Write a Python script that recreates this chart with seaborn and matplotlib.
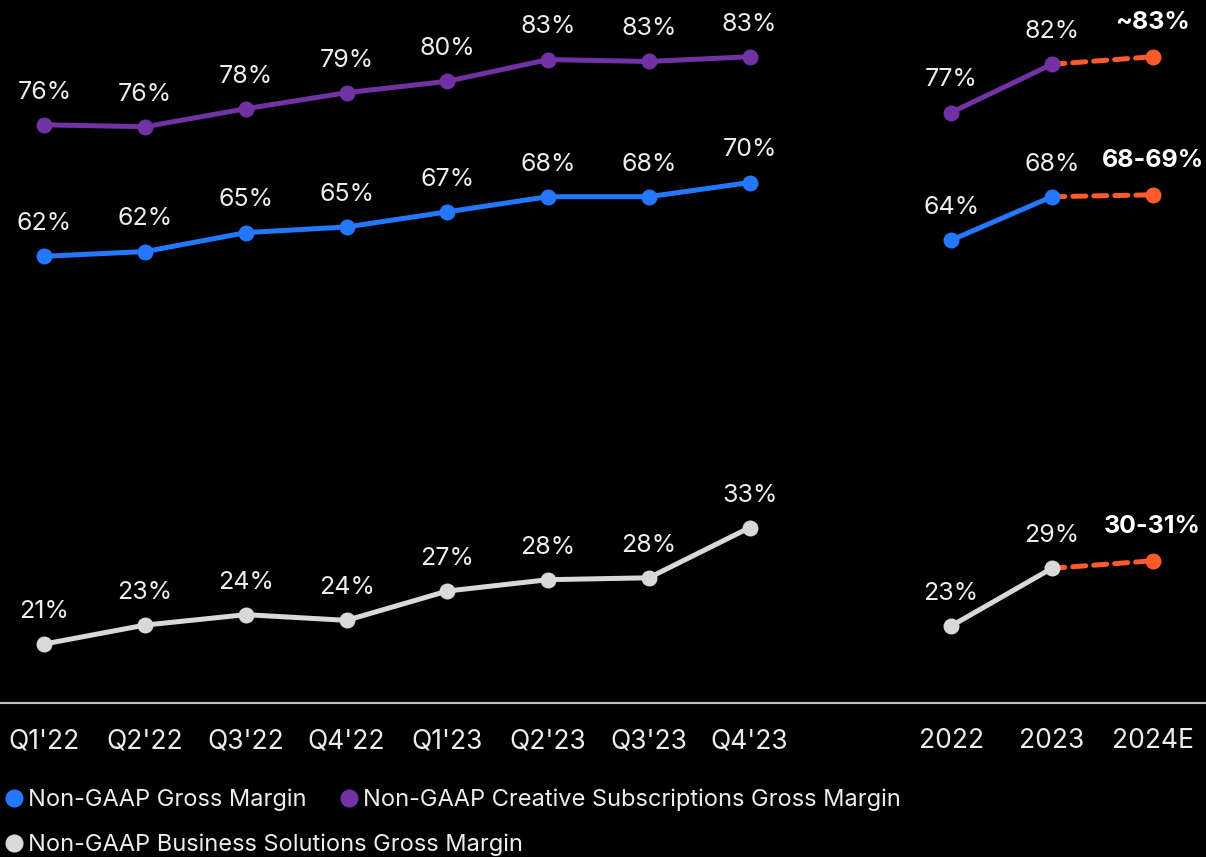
import matplotlib
matplotlib.use("Agg")
import matplotlib.pyplot as plt
from matplotlib.lines import Line2D
import seaborn as sns
import pandas as pd

# ---- data ----
quarters = ["Q1'22", "Q2'22", "Q3'22", "Q4'22", "Q1'23", "Q2'23", "Q3'23", "Q4'23"]
years = ["2022", "2023", "2024E"]

gross_q = [62.0, 62.5, 64.5, 65.1, 66.7, 68.3, 68.3, 69.8]
creative_q = [75.9, 75.7, 77.6, 79.3, 80.5, 82.8, 82.6, 83.1]
business_q = [21.0, 23.0, 24.1, 23.5, 26.6, 27.8, 28.0, 33.3]

gross_y = [63.7, 68.3, 68.5]
creative_y = [77.2, 82.3, 83.1]
business_y = [22.9, 29.0, 29.8]

gross_q_lbl = ["62%", "62%", "65%", "65%", "67%", "68%", "68%", "70%"]
creative_q_lbl = ["76%", "76%", "78%", "79%", "80%", "83%", "83%", "83%"]
business_q_lbl = ["21%", "23%", "24%", "24%", "27%", "28%", "28%", "33%"]
gross_y_lbl = ["64%", "68%", "68-69%"]
creative_y_lbl = ["77%", "82%", "~83%"]
business_y_lbl = ["23%", "29%", "30-31%"]

series_names = ["Non-GAAP Gross Margin",
                "Non-GAAP Creative Subscriptions Gross Margin",
                "Non-GAAP Business Solutions Gross Margin"]

# ---- style ----
BG = "#000000"
BLUE = "#2378FF"
PURPLE = "#7232A6"
GREY = "#D9D9D9"
ORANGE = "#FF5A2B"
TXT = "#EDEDED"

sns.set_theme(style="dark")
plt.rcParams["font.family"] = ["Inter", "DejaVu Sans"]

fig = plt.figure(figsize=(12.06, 8.57), dpi=100, facecolor=BG)
ax = fig.add_axes([0.0, 1 - 703 / 857, 1.0, 703 / 857])
ax.set_facecolor(BG)

q_pos = list(range(len(quarters)))
y_pos = [9, 10, 11]
tick_pos = q_pos + y_pos
tick_labels = quarters + years

colors = [BLUE, PURPLE, GREY]
q_vals = [gross_q, creative_q, business_q]
y_vals = [gross_y, creative_y, business_y]
q_lbls = [gross_q_lbl, creative_q_lbl, business_q_lbl]
y_lbls = [gross_y_lbl, creative_y_lbl, business_y_lbl]

LW = 3.6
MS = 11.5
LBL_FS = 18
OFF = 23.5

for name, col, qv, yv, ql, yl in zip(series_names, colors, q_vals, y_vals, q_lbls, y_lbls):
    # forecast dashed segment (2023 -> 2024E)
    dfe = pd.DataFrame({"x": y_pos[1:], "y": yv[1:]})
    sns.lineplot(data=dfe, x="x", y="y", ax=ax, color=ORANGE, linewidth=LW,
                 linestyle=(0, (2.6, 1.6)), dash_capstyle="round", zorder=2)
    ax.plot([y_pos[2]], [yv[2]], marker="o", markersize=MS, color=ORANGE,
            linestyle="none", markeredgewidth=0, zorder=4)
    # quarterly
    dfq = pd.DataFrame({"x": q_pos, "y": qv})
    sns.lineplot(data=dfq, x="x", y="y", ax=ax, color=col, linewidth=LW,
                 marker="o", markersize=MS, markeredgewidth=0, zorder=3)
    # annual actuals
    dfy = pd.DataFrame({"x": y_pos[:2], "y": yv[:2]})
    sns.lineplot(data=dfy, x="x", y="y", ax=ax, color=col, linewidth=LW,
                 marker="o", markersize=MS, markeredgewidth=0, zorder=3)
    # labels
    for x, v, l in zip(q_pos, qv, ql):
        ax.annotate(l, (x, v), xytext=(0, OFF), textcoords="offset points",
                    ha="center", va="center", fontsize=LBL_FS, color=TXT)
    for i, (x, v, l) in enumerate(zip(y_pos, yv, yl)):
        if i < 2:
            ax.annotate(l, (x, v), xytext=(0, OFF), textcoords="offset points",
                        ha="center", va="center", fontsize=LBL_FS, color=TXT)
        else:
            ax.annotate(l, (x, v), xytext=(0, OFF + 1), textcoords="offset points",
                        ha="center", va="center", fontsize=LBL_FS, color="#FFFFFF",
                        fontweight="bold")

ax.set_xlim(-0.44, 11.53)
ax.set_ylim(14.76, 89.1)
ax.set_xticks(tick_pos)
ax.set_xticklabels(tick_labels, fontsize=19, color=TXT)
ax.set_yticks([])
ax.set_xlabel("")
ax.set_ylabel("")
ax.tick_params(axis="x", length=0, pad=18)
ax.grid(False)
for s in ["top", "right", "left"]:
    ax.spines[s].set_visible(False)
ax.spines["bottom"].set_visible(True)
ax.spines["bottom"].set_color("#BFBFBF")
ax.spines["bottom"].set_linewidth(1.5)

# ---- legend ----
def handle(c):
    return Line2D([], [], marker="o", color=c, linestyle="none", markersize=13,
                  markeredgewidth=0)

leg1 = fig.legend([handle(BLUE), handle(PURPLE)], series_names[:2], ncol=2,
                  loc="center left", bbox_to_anchor=(-0.018, 1 - 800 / 857),
                  frameon=False, fontsize=17, labelcolor=TXT, handletextpad=0.0,
                  columnspacing=1.2, handlelength=1.2)
leg2 = fig.legend([handle(GREY)], series_names[2:], ncol=1,
                  loc="center left", bbox_to_anchor=(-0.018, 1 - 845 / 857),
                  frameon=False, fontsize=17, labelcolor=TXT, handletextpad=0.0,
                  handlelength=1.2)

fig.savefig("out.png", dpi=100, facecolor=BG)
